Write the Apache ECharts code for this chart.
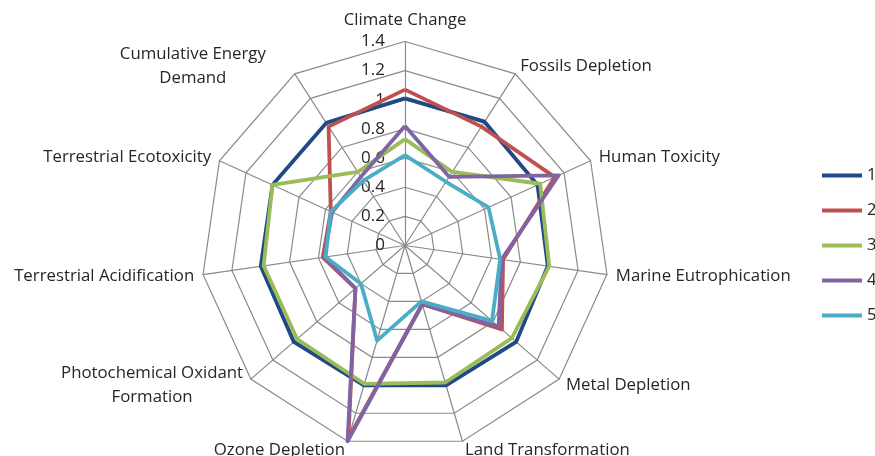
<!DOCTYPE html>
<html>
<head>
<meta charset="utf-8">
<script src="https://cdn.jsdelivr.net/npm/echarts@6/dist/echarts.min.js"></script>
<style>
html,body{margin:0;padding:0;background:#fff;}
#chart{width:875px;height:456px;}
</style>
</head>
<body>
<div id="chart"></div>
<script>
// Categories in clockwise order starting from the top
const categories = ['Climate Change', 'Fossils Depletion', 'Human Toxicity', 'Marine Eutrophication',
  'Metal Depletion', 'Land Transformation', 'Ozone Depletion', 'Photochemical Oxidant\nFormation',
  'Terrestrial Acidification', 'Terrestrial Ecotoxicity', 'Cumulative Energy\nDemand'];
const seriesNames = ['1', '2', '3', '4', '5'];
const s1 = [1.01, 1.01, 1.00, 0.99, 1.01, 1.00, 1.00, 1.01, 1.00, 1.00, 1.00];
const s2 = [1.07, 0.97, 1.13, 0.68, 0.88, 0.42, 1.38, 0.45, 0.57, 0.56, 0.97];
const s3 = [0.73, 0.60, 1.02, 1.00, 0.97, 0.98, 0.99, 0.98, 0.98, 1.00, 0.60];
const s4 = [0.82, 0.56, 1.16, 0.67, 0.85, 0.42, 1.40, 0.45, 0.56, 0.55, 0.56];
const s5 = [0.62, 0.52, 0.63, 0.66, 0.79, 0.40, 0.68, 0.40, 0.55, 0.56, 0.53];
const tickLabels = ['0', '0.2', '0.4', '0.6', '0.8', '1', '1.2', '1.4'];
const colors = ['#1F4A85', '#C0504D', '#9BBB59', '#8064A2', '#4BACC6'];

const axisMax = 1.4;
const step = 0.2;
// ECharts radar places indicators counter-clockwise; reorder to make them clockwise
const reorder = arr => [arr[0]].concat(arr.slice(1).reverse());
const allSeries = [s1, s2, s3, s4, s5];

const chart = echarts.init(document.getElementById('chart'), null, {renderer: 'canvas'});
const font = '"Open Sans", Lato, sans-serif';
const nameSize = 16.8;
const option = {
  animation: false,
  backgroundColor: '#ffffff',
  color: colors,
  legend: {
    orient: 'vertical',
    left: 817,
    top: 160,
    itemWidth: 40,
    itemHeight: 4,
    icon: 'rect',
    itemGap: 14,
    textStyle: {fontSize: 16.5, color: '#262626', fontFamily: font, lineHeight: 21},
    data: seriesNames
  },
  radar: {
    center: [405, 245.5],
    radius: 204,
    startAngle: 90,
    shape: 'polygon',
    splitNumber: 7,
    nameGap: 9,
    indicator: reorder(categories).map(n => ({name: n, min: 0, max: axisMax})),
    axisName: {
      color: '#262626', fontSize: nameSize, fontFamily: font, lineHeight: 24,
      formatter: function (name) {
        if (name.indexOf('Photochemical') === 0) {
          return name.split('\n').map(l => '{p|' + l + '}').join('\n');
        }
        if (name.indexOf('Cumulative') === 0) {
          return name.split('\n').map(l => '{c|' + l + '}').join('\n');
        }
        return name;
      },
      rich: {
        p: {width: 184, align: 'center', fontSize: nameSize, fontFamily: font, color: '#262626', lineHeight: 24},
        c: {width: 146, align: 'center', fontSize: nameSize, fontFamily: font, color: '#262626', lineHeight: 24, padding: [0, 24, 0, 0]}
      }
    },
    splitLine: {lineStyle: {color: '#8a8a8a', width: 1.2}},
    axisLine: {lineStyle: {color: '#8a8a8a', width: 1.2}},
    splitArea: {show: false},
    axisTick: {show: false},
    axisLabel: {show: false}
  },
  polar: {center: [405, 245.5], radius: 204},
  angleAxis: {show: false, startAngle: 90, min: 0, max: 360},
  radiusAxis: {
    min: 0, max: axisMax, interval: step,
    axisLine: {show: false}, axisTick: {show: false}, splitLine: {show: false},
    axisLabel: {
      show: true, fontSize: 17, color: '#262626', fontFamily: font, margin: 20,
      formatter: v => tickLabels[Math.round(v / step)]
    }
  },
  series: [{
    type: 'radar',
    symbol: 'none',
    data: allSeries.map((s, i) => ({
      name: seriesNames[i],
      value: reorder(s),
      lineStyle: {color: colors[i], width: 3.8},
      itemStyle: {color: colors[i]}
    }))
  }]
};
chart.setOption(option);
</script>
</body>
</html>
